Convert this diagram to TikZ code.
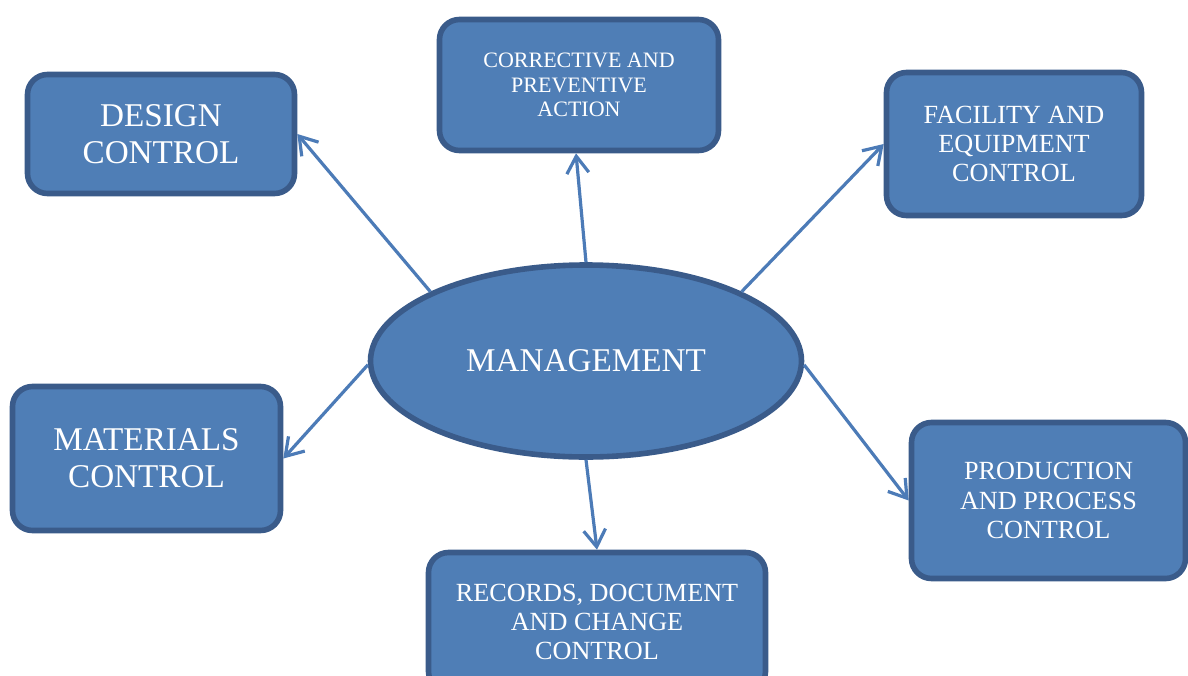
\documentclass[tikz,border=0pt]{standalone}
\usepackage{fontspec}
\setmainfont{Liberation Serif}
\usepackage{tikz}
\usetikzlibrary{arrows.meta,shapes.geometric}

\definecolor{boxfill}{HTML}{4F7EB6}
\definecolor{boxline}{HTML}{3A5B8A}
\definecolor{linkline}{HTML}{4C7BB7}

\begin{document}
\begin{tikzpicture}[x=0.5pt,y=-0.5pt,
    area/.style={draw=boxline,fill=boxfill,line width=2.8pt,rounded corners=10pt,
      text=white,align=center,inner sep=0pt},
    big/.style={font=\fontsize{16.6}{18.5}\selectfont},
    mid/.style={font=\fontsize{13.1}{14.6}\selectfont},
    small/.style={font=\fontsize{11}{12.3}\selectfont},
    link/.style={draw=linkline,line width=1.6pt,-{Straight Barb[length=8.5pt,width=11pt,line width=1.6pt]}}]
  \clip (0,0) rectangle (1188,675);
  \node[area,big,minimum width=133.5pt,minimum height=59.5pt] (design) at (161,134) {DESIGN\\CONTROL};
  \node[area,small,minimum width=139.5pt,minimum height=65.5pt] (capa) at (579,85) {CORRECTIVE AND\\PREVENTIVE\\ACTION};
  \node[area,mid,minimum width=127.5pt,minimum height=71.5pt] (facility) at (1014,144) {FACILITY AND\\EQUIPMENT\\CONTROL};
  \node[area,big,minimum width=134pt,minimum height=72pt] (materials) at (146.5,458.5) {MATERIALS\\CONTROL};
  \node[area,mid,minimum width=137pt,minimum height=78pt] (production) at (1048.5,500.5) {PRODUCTION\\AND PROCESS\\CONTROL};
  \node[area,mid,minimum width=168.5pt,minimum height=69.5pt] (records) at (597,622) {RECORDS, DOCUMENT\\AND CHANGE\\CONTROL};
  \node[ellipse,draw=boxline,fill=boxfill,line width=2.8pt,text=white,big,inner sep=0pt,
    minimum width=215.5pt,minimum height=96pt] (mgmt) at (586,361) {MANAGEMENT};
  \path (mgmt.156) edge[link] (design.east)
        (mgmt.north) edge[link] ([xshift=-1.5pt]capa.south)
        (mgmt.24) edge[link] (facility.west)
        (mgmt.181) edge[link] (materials.east)
        (mgmt.359) edge[link] (production.west)
        (mgmt.south) edge[link] (records.north)
  ;
\end{tikzpicture}
\end{document}
